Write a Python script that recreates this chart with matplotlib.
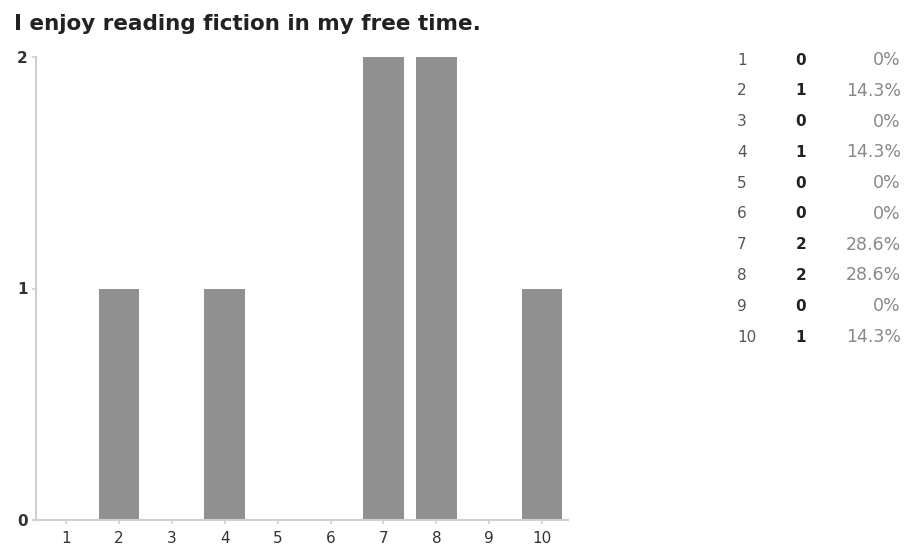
import numpy as np
import matplotlib
matplotlib.use('Agg')
import matplotlib.pyplot as plt

plt.rcParams['font.family'] = ['DejaVu Sans']

# データ
title = "I enjoy reading fiction in my free time."
options = [1, 2, 3, 4, 5, 6, 7, 8, 9, 10]
counts = [0, 1, 0, 1, 0, 0, 2, 2, 0, 1]
percents = ["0%", "14.3%", "0%", "14.3%", "0%", "0%", "28.6%", "28.6%", "0%", "14.3%"]

fig = plt.figure(figsize=(9.06, 5.46), dpi=100)
ax = fig.add_axes([36/906, 1-520/546, 532/906, 463/546])

ax.bar(options, counts, width=0.77, color='#909090')
ax.set_xlim(0.43, 10.49)
ax.set_ylim(0, 2)
ax.set_xticks(options)
ax.set_yticks([0, 1, 2])

for s in ['top', 'right']:
	ax.spines[s].set_visible(False)
for s in ['left', 'bottom']:
	ax.spines[s].set_color('#d0d0d0')
	ax.spines[s].set_linewidth(1.5)
ax.tick_params(axis='x', colors='#d0d0d0', length=3, width=1.2, labelcolor='#333333', labelsize=11, pad=5)
ax.tick_params(axis='y', colors='#d0d0d0', length=3, width=1.2, labelcolor='#333333', labelsize=11, pad=3)
for t in ax.get_yticklabels():
	t.set_fontweight('bold')

fig.text(14/906, 1-30/546, title, fontsize=15.5, fontweight='bold', color='#222222', va='baseline', ha='left')

# 右側の表
y0 = 60
dy = (337 - 60) / 9
for i in range(len(options)):
	y = 1 - (y0 + dy*i)/546
	fig.text(737/906, y, str(options[i]), fontsize=11, color='#555555', va='center', ha='left')
	fig.text(801/906, y, str(counts[i]), fontsize=11, color='#222222', fontweight='bold', va='center', ha='center')
	fig.text(901/906, y, percents[i], fontsize=12.5, color='#888888', va='center', ha='right')

plt.savefig("out.png", dpi=100)
